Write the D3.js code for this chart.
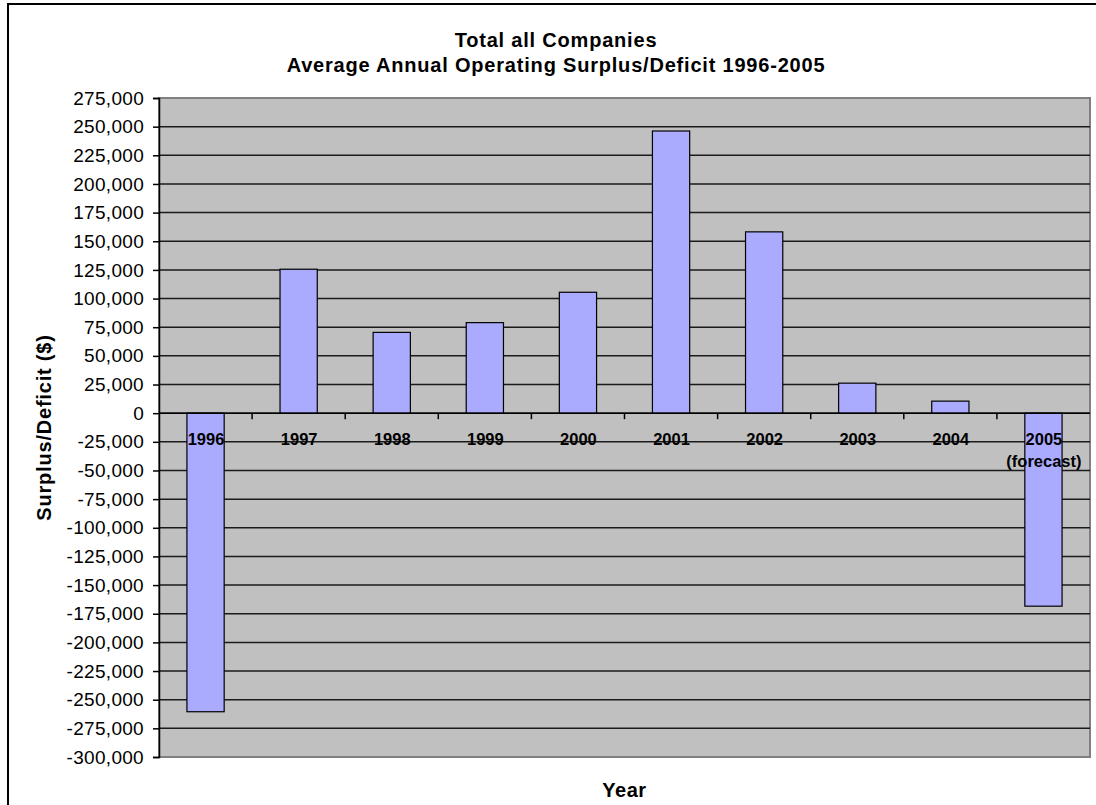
<!DOCTYPE html>
<head>
<meta charset="utf-8">
<title>Operating Surplus/Deficit</title>
<script type="text/javascript" src="https://cdn.jsdelivr.net/npm/d3@7"></script>
<style>
body { margin: 0; background: #fff; }
text { font-family: "Liberation Sans", Arial, sans-serif; }
</style>
</head>
<body>
<script>
// values
var years = ["1996", "1997", "1998", "1999", "2000", "2001", "2002", "2003", "2004", "2005"];
var yearNotes = ["", "", "", "", "", "", "", "", "", "(forecast)"];
var surplus = [-260500, 125600, 70500, 79000, 105500, 246200, 158200, 26200, 10500, -168400];
var yTicks = d3.range(-300000, 275001, 25000);

var width = 1096, height = 805;
// plot area edges (don't call it "top", that's window.top)
var pLeft = 159, pRight = 1090, pTop = 98, pBottom = 757;
var titleX = 556; // chart titles are centred on the whole chart box, not the plot

var svg = d3.select("body").append("svg")
    .attr("width", width)
    .attr("height", height);

// outer chart frame
svg.append("rect")
    .attr("x", 8).attr("y", 4)
    .attr("width", 1100).attr("height", 820)
    .style("fill", "white").style("stroke", "black").style("stroke-width", 2);

var x = d3.scaleBand().domain(years).range([pLeft, pRight]).paddingInner(0.6).paddingOuter(0.3);
var xb = d3.scaleBand().domain(years).range([pLeft, pRight]);
var y = d3.scaleLinear().domain([-300000, 275000]).range([pBottom, pTop]);

// plot area
svg.append("rect")
    .attr("x", pLeft).attr("y", pTop)
    .attr("width", pRight - pLeft).attr("height", pBottom - pTop)
    .style("fill", "#c0c0c0").style("stroke", "#808080").style("stroke-width", 2);

// gridlines
svg.selectAll(".grid").data(yTicks.filter(function(d) { return d > -300000 && d < 275000; }))
  .enter().append("line")
    .attr("x1", pLeft).attr("x2", pRight)
    .attr("y1", function(d) { return y(d); }).attr("y2", function(d) { return y(d); })
    .style("stroke", "#1a1a1a").style("stroke-width", 1.5);

// y axis
var yAxis = svg.append("g")
    .attr("class", "axis")
    .attr("transform", "translate(" + pLeft + ",0)")
    .call(d3.axisLeft(y).tickValues(yTicks).tickSize(6).tickPadding(9)
        .tickFormat(function(d) { return d3.format(",")(d).replace("−", "-"); }));
yAxis.select(".domain").style("stroke", "black").style("stroke-width", 1.5);
yAxis.selectAll(".tick line").style("stroke", "black").style("stroke-width", 1.5);
yAxis.selectAll(".tick text")
    .style("font-size", "19px").style("fill", "black").style("letter-spacing", "0.3px")
    .style("font-family", "Liberation Sans, Arial, sans-serif");

// bars
svg.selectAll(".bar").data(surplus)
  .enter().append("rect")
    .attr("x", function(d, i) { return x(years[i]); })
    .attr("y", function(d) { return y(Math.max(0, d)); })
    .attr("width", x.bandwidth())
    .attr("height", function(d) { return Math.abs(y(d) - y(0)); })
    .style("fill", "#aaaaff").style("stroke", "black").style("stroke-width", 1.2);

// category axis on zero line
svg.append("line")
    .attr("x1", pLeft).attr("x2", pRight)
    .attr("y1", y(0)).attr("y2", y(0))
    .style("stroke", "black").style("stroke-width", 1.5);
svg.selectAll(".ctick").data(years.slice(1))
  .enter().append("line")
    .attr("x1", function(d) { return xb(d); }).attr("x2", function(d) { return xb(d); })
    .attr("y1", y(0)).attr("y2", y(0) + 6)
    .style("stroke", "black").style("stroke-width", 1.5);

svg.selectAll(".clabel").data(years)
  .enter().append("text")
    .attr("x", function(d) { return xb(d) + xb.bandwidth() / 2 + 0.5; })
    .attr("y", y(0) + 32)
    .attr("text-anchor", "middle")
    .style("font-size", "16.5px").style("font-weight", "bold")
    .text(function(d) { return d; });
svg.selectAll(".cnote").data(years)
  .enter().append("text")
    .attr("x", function(d) { return xb(d) + xb.bandwidth() / 2 + 0.5; })
    .attr("y", y(0) + 54)
    .attr("text-anchor", "middle")
    .style("font-size", "16.5px").style("font-weight", "bold")
    .text(function(d, i) { return yearNotes[i]; });

// titles
svg.append("text").attr("x", titleX).attr("y", 47).attr("text-anchor", "middle")
    .style("font-size", "20px").style("font-weight", "bold").style("letter-spacing", "0.8px")
    .text("Total all Companies");
svg.append("text").attr("x", titleX).attr("y", 72).attr("text-anchor", "middle")
    .style("font-size", "20px").style("font-weight", "bold").style("letter-spacing", "0.8px")
    .text("Average Annual Operating Surplus/Deficit 1996-2005");
svg.append("text").attr("x", (pLeft + pRight) / 2).attr("y", 797).attr("text-anchor", "middle")
    .style("font-size", "20px").style("font-weight", "bold").style("letter-spacing", "0.5px")
    .text("Year");
svg.append("text")
    .attr("transform", "translate(51," + ((pTop + pBottom) / 2) + ") rotate(-90)")
    .attr("text-anchor", "middle")
    .style("font-size", "20px").style("font-weight", "bold").style("letter-spacing", "0.8px")
    .text("Surplus/Deficit ($)");
</script>
</body>
